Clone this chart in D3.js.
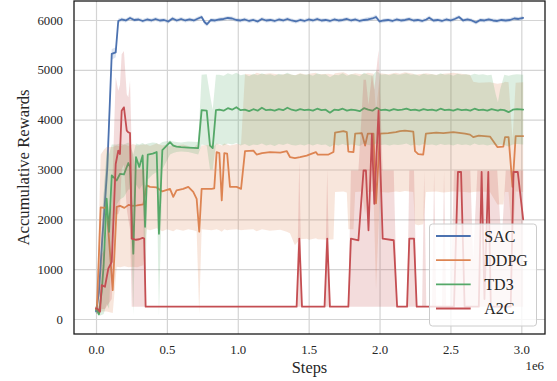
<!DOCTYPE html>
<html><head><meta charset="utf-8">
<script src="https://cdn.jsdelivr.net/npm/d3@7/dist/d3.min.js"></script>
<style>body{margin:0;background:#fff}svg{display:block}</style>
</head><body><div id="chart"></div>
<script>
// ---- data: [steps (1e6), mean, lower, upper] ----
const seriesNames = ["SAC", "DDPG", "TD3", "A2C"];
const seriesColors = ["#4c72b0", "#dd8452", "#55a868", "#c44e52"];
const xTickValues = [0, 0.5, 1.0, 1.5, 2.0, 2.5, 3.0];
const yTickValues = [0, 1000, 2000, 3000, 4000, 5000, 6000];

const sac = [
[0.000,150,110,190],[0.020,520,300,800],[0.044,1600,1200,2100],[0.062,2300,1900,2800],
[0.080,3050,2700,3400],[0.111,5320,5200,5420],[0.139,5350,5250,5450],[0.157,5980,5930,6030],
[0.180,6010,5970,6050],[0.210,5990,5950,6030],[0.240,6040,6000,6080],[0.270,6000,5960,6040],
[0.300,6010,5980,6050],[0.330,5980,5940,6020],[0.360,6010,5970,6050],[0.390,5990,5950,6030],
[0.420,6020,5980,6060],[0.450,5990,5950,6030],[0.480,6000,5960,6040],[0.510,5970,5930,6010],
[0.540,6030,5990,6070],[0.570,5990,5950,6030],[0.600,6020,5980,6060],[0.630,5990,5950,6030],
[0.660,6010,5970,6050],[0.690,5990,5950,6030],[0.720,6030,5990,6070],[0.745,6060,6020,6100],
[0.765,5960,5910,6010],[0.783,5915,5870,5960],[0.810,6000,5960,6040],[0.840,5990,5950,6030],
[0.870,6010,5970,6050],[0.900,6020,5980,6060],[0.930,6040,6000,6080],[0.960,6030,5990,6070],
[0.990,6000,5960,6040],[1.020,5990,5950,6030],[1.050,6010,5970,6050],[1.080,5980,5940,6020],
[1.110,6000,5960,6040],[1.140,5970,5930,6010],[1.170,6020,5980,6060],[1.200,5990,5950,6030],
[1.230,6000,5960,6040],[1.260,5980,5940,6020],[1.290,6010,5970,6050],[1.320,5990,5950,6030],
[1.350,6020,5980,6060],[1.380,5990,5950,6030],[1.410,5970,5930,6010],[1.440,6000,5960,6040],
[1.470,5980,5940,6020],[1.500,6010,5970,6050],[1.530,5990,5950,6030],[1.560,6020,5980,6060],
[1.590,5990,5950,6030],[1.620,6000,5960,6040],[1.650,5980,5940,6020],[1.680,6010,5970,6050],
[1.710,5990,5950,6030],[1.740,6000,5960,6040],[1.770,6020,5980,6060],[1.800,5990,5950,6030],
[1.830,6010,5970,6050],[1.860,5980,5940,6020],[1.890,6000,5960,6040],[1.920,6010,5970,6060],
[1.950,6030,5990,6070],[1.975,6060,6010,6110],[2.000,5970,5930,6010],[2.030,5990,5950,6030],
[2.060,6000,5960,6040],[2.090,5980,5940,6020],[2.120,6010,5970,6050],[2.150,5990,5950,6030],
[2.180,6000,5960,6040],[2.210,6020,5980,6060],[2.240,5990,5950,6030],[2.270,6000,5960,6040],
[2.300,5980,5940,6020],[2.330,6010,5970,6050],[2.350,6045,6000,6090],[2.380,5990,5950,6030],
[2.410,6000,5960,6040],[2.440,5980,5940,6020],[2.470,6010,5970,6050],[2.500,5990,5950,6030],
[2.530,6020,5980,6060],[2.560,6060,6020,6100],[2.590,5990,5950,6030],[2.620,6010,5970,6050],
[2.650,5990,5950,6030],[2.680,5950,5910,5990],[2.710,6000,5960,6040],[2.740,5990,5950,6030],
[2.770,6010,5970,6050],[2.800,5990,5950,6030],[2.830,5980,5940,6020],[2.860,6000,5960,6040],
[2.890,5990,5950,6030],[2.920,6000,5960,6040],[2.950,6030,5990,6070],[2.980,6020,5980,6060],
[3.013,6040,6000,6080]
];

const ddpg = [
[0.000,200,100,300],[0.007,260,100,500],[0.033,2240,150,3300],[0.057,2230,150,3400],
[0.075,2250,150,3450],[0.118,580,120,3450],[0.146,2250,1050,3480],[0.170,2270,1040,3460],
[0.200,2230,1060,3500],[0.230,2290,1040,3470],[0.260,2270,1050,3510],[0.290,2280,1040,3480],
[0.334,2300,1080,3500],[0.357,2680,1800,3500],[0.381,2650,1780,3470],[0.428,2640,1820,3520],
[0.468,2560,1760,3480],[0.500,2590,1800,3500],[0.522,2610,1780,3460],[0.545,2450,1760,3510],
[0.568,2580,1800,3480],[0.615,2610,1770,3500],[0.651,2650,1800,3470],[0.686,2550,1780,3420],
[0.710,2410,1760,3500],[0.728,1750,100,3400],[0.745,2610,1800,3480],[0.815,2610,1780,3500],
[0.834,2620,1790,3470],[0.851,3350,1800,3520],[0.870,3330,1780,3500],[0.887,2380,1750,3480],
[0.905,3330,1800,3520],[0.925,3320,1780,3500],[0.945,2650,1790,3480],[0.992,2650,1800,3510],
[1.023,2610,1780,3500],[1.051,3370,1790,4920],[1.110,3380,1800,4900],[1.133,3300,1760,4940],
[1.171,3330,1800,4910],[1.227,3350,1770,4930],[1.300,3340,1790,4900],[1.345,3370,1750,4920],
[1.368,3250,1720,4910],[1.403,3230,1480,4890],[1.439,3250,1600,4930],[1.486,3280,1610,4900],
[1.504,3300,1590,4920],[1.551,3350,1620,4940],[1.563,3300,1600,4910],[1.640,3300,1590,4920],
[1.675,3350,1600,4900],[1.686,3740,2550,4930],[1.745,3770,2560,4950],[1.769,3750,2540,4920],
[1.780,3360,1800,4900],[1.816,3350,1800,4920],[1.828,3720,2550,4930],[1.875,3730,2560,4910],
[1.898,3480,2100,4920],[1.917,3720,2550,4940],[1.957,3720,2560,4920],[1.975,2320,600,4150],
[2.003,3720,2550,4930],[2.062,3730,2540,4910],[2.115,3750,2560,4940],[2.144,3770,2550,4920],
[2.179,3780,2570,4950],[2.238,3760,2550,4920],[2.250,3370,1900,4900],[2.273,3310,1880,4910],
[2.308,3300,1900,4920],[2.327,3720,2550,4930],[2.400,3740,2560,4900],[2.450,3730,2540,4920],
[2.520,3750,2560,4940],[2.603,3720,2550,4910],[2.638,3700,2540,4900],[2.661,3650,2550,4760],
[2.700,3680,2560,4740],[2.779,3660,2550,4750],[2.831,3450,2300,4720],[2.873,3460,2300,4740],
[2.885,3650,2550,4760],[2.910,3650,2550,4750],[2.938,2650,1500,3600],[2.960,3670,2560,4740],
[3.013,3670,2550,4750]
];

const td3 = [
[0.000,180,100,300],[0.007,180,100,300],[0.021,95,60,200],[0.040,547,80,1500],
[0.054,1080,100,2500],[0.075,2413,300,3400],[0.092,1747,200,3300],[0.111,2880,1500,3500],
[0.146,2780,2300,3500],[0.169,2910,2400,3520],[0.197,2900,2450,3500],[0.228,3130,2600,3540],
[0.240,3050,2600,3500],[0.263,1310,80,3300],[0.282,3250,2700,3520],[0.305,3050,2600,3500],
[0.329,3280,2700,3530],[0.346,1850,400,3500],[0.365,3300,2800,3520],[0.400,3320,2900,3540],
[0.428,3350,2950,3530],[0.444,1710,60,3500],[0.468,3390,3000,3550],[0.522,3550,3300,3580],
[0.545,3480,3330,3560],[0.568,3460,3350,3550],[0.600,3450,3360,3540],[0.650,3440,3350,3560],
[0.721,3430,3300,3550],[0.745,4190,3500,4900],[0.781,4180,3480,4910],[0.804,3480,3000,4500],
[0.823,3430,3000,4200],[0.846,4190,3500,4900],[0.870,4200,3510,4900],[0.900,4180,3480,4880],
[0.930,4230,3520,4930],[0.960,4200,3500,4900],[0.990,4250,3530,4940],[1.020,4190,3480,4890],
[1.050,4200,3510,4910],[1.080,4170,3470,4870],[1.110,4210,3500,4920],[1.140,4180,3490,4890],
[1.170,4240,3520,4930],[1.200,4190,3480,4900],[1.230,4200,3500,4910],[1.260,4180,3470,4880],
[1.290,4210,3510,4920],[1.320,4190,3490,4900],[1.350,4240,3520,4940],[1.380,4200,3490,4900],
[1.410,4180,3480,4890],[1.440,4210,3500,4920],[1.470,4190,3480,4900],[1.500,4200,3510,4910],
[1.530,4180,3480,4880],[1.560,4220,3510,4930],[1.590,4190,3490,4900],[1.620,4200,3500,4910],
[1.650,4140,3450,4850],[1.680,4200,3500,4900],[1.710,4190,3480,4890],[1.740,4220,3510,4930],
[1.770,4180,3480,4880],[1.800,4200,3500,4910],[1.830,4190,3490,4900],[1.860,4170,3470,4870],
[1.890,4230,3520,4940],[1.920,4200,3490,4900],[1.950,4180,3480,4880],[1.980,4240,3530,4980],
[2.010,4190,3490,4900],[2.040,4200,3500,4910],[2.070,4180,3480,4890],[2.100,4210,3500,4920],
[2.130,4190,3490,4900],[2.160,4200,3500,4910],[2.190,4220,3520,4930],[2.220,4190,3480,4900],
[2.250,4200,3500,4910],[2.280,4180,3480,4880],[2.310,4210,3510,4920],[2.340,4190,3490,4900],
[2.370,4200,3500,4910],[2.400,4180,3480,4890],[2.430,4220,3510,4930],[2.460,4190,3490,4900],
[2.490,4200,3500,4910],[2.520,4180,3480,4880],[2.550,4210,3510,4920],[2.580,4190,3490,4900],
[2.610,4200,3500,4910],[2.640,4180,3480,4890],[2.670,4220,3520,4920],[2.700,4190,3490,4900],
[2.730,4200,3500,4910],[2.760,4180,3480,4890],[2.790,4210,3500,4900],[2.820,4190,3490,4500],
[2.835,4180,3480,4350],[2.850,4200,3500,4600],[2.880,4190,3490,4900],[2.910,4150,3460,4880],
[2.940,4200,3500,4900],[2.970,4210,3510,4910],[3.013,4200,3500,4900]
];

const a2c = [
[0.000,213,150,280],[0.007,213,150,280],[0.028,147,100,250],[0.040,680,200,1300],
[0.063,647,200,1400],[0.087,1013,300,2000],[0.111,1147,400,2300],[0.139,3110,2100,4850],
[0.157,3380,2100,4580],[0.169,3310,2200,4700],[0.181,4180,3000,5310],[0.197,4247,3100,5380],
[0.217,3780,2200,4510],[0.228,3747,2000,4450],[0.240,3730,1800,4780],[0.252,1613,247,3400],
[0.282,1590,247,3000],[0.305,1600,247,3000],[0.329,1627,247,3000],[0.340,1613,247,3000],
[0.350,247,247,247],[1.415,247,247,247],[1.434,1613,247,3180],[1.453,247,247,247],
[1.612,247,247,247],[1.631,1613,247,3000],[1.650,247,247,247],[1.780,247,247,247],
[1.798,1613,247,2980],[1.851,1580,247,2980],[1.887,2980,247,4800],[1.904,2980,247,4800],
[1.922,1780,247,4300],[1.946,3713,247,4900],[1.963,2313,247,4600],[1.993,4180,247,5400],
[2.022,1613,247,2980],[2.100,1580,247,2980],[2.124,247,247,247],[2.194,247,247,247],
[2.210,1613,247,2980],[2.243,1613,247,2980],[2.262,247,247,247],[2.300,247,247,247],
[2.315,247,247,2980],[2.330,247,247,247],[2.370,247,247,247],[2.385,247,247,2980],
[2.400,247,247,247],[2.440,247,247,247],[2.455,247,247,2980],[2.470,247,247,247],
[2.500,247,247,247],[2.525,247,247,2980],[2.553,2950,247,2980],[2.575,2950,247,2980],
[2.600,247,247,2980],[2.640,247,247,2980],[2.660,247,247,1200],[2.690,247,247,2980],
[2.700,247,247,2980],[2.720,2950,247,2980],[2.740,400,247,2980],[2.767,2950,247,2980],
[2.785,247,247,2980],[2.830,247,247,2980],[2.860,247,247,1500],[2.890,247,247,2980],
[2.925,247,247,2980],[2.945,2950,247,2980],[2.975,2950,247,2980],[3.013,2000,247,2980]
];

const allSeries = [sac, ddpg, td3, a2c];

// ---- layout ----
const W = 557, H = 381;
const plot = {left: 74, right: 545, top: 1, bottom: 334};
const FONT = "'Liberation Serif','Times New Roman',serif";
const INK = "#262626";

const svg = d3.select("#chart").append("svg").attr("width", W).attr("height", H);

const x = d3.scaleLinear().domain([-0.1552, 3.167]).range([plot.left, plot.right]);
const y = d3.scaleLinear().domain([-301, 6381]).range([plot.bottom, plot.top]);

// grid
const gx = svg.append("g").attr("transform", `translate(0,${plot.bottom})`)
  .call(d3.axisBottom(x).tickValues(xTickValues).tickSize(-(plot.bottom - plot.top)).tickFormat(""));
const gy = svg.append("g").attr("transform", `translate(${plot.left},0)`)
  .call(d3.axisLeft(y).tickValues(yTickValues).tickSize(-(plot.right - plot.left)).tickFormat(""));
[gx, gy].forEach(g => {
  g.select(".domain").remove();
  g.selectAll("line").attr("stroke", "#d4d4d4").attr("stroke-width", 1.2);
});

// clip
svg.append("clipPath").attr("id", "clip").append("rect")
  .attr("x", plot.left).attr("y", plot.top)
  .attr("width", plot.right - plot.left).attr("height", plot.bottom - plot.top);
const marks = svg.append("g").attr("clip-path", "url(#clip)");

const area = d3.area().x(d => x(d[0])).y0(d => y(d[2])).y1(d => y(d[3]));
const line = d3.line().x(d => x(d[0])).y(d => y(d[1]));

allSeries.forEach((data, i) => {
  marks.append("path").datum(data).attr("d", area)
    .attr("fill", seriesColors[i]).attr("fill-opacity", 0.2).attr("stroke", "none");
  marks.append("path").datum(data).attr("d", line)
    .attr("fill", "none").attr("stroke", seriesColors[i]).attr("stroke-width", 1.8)
    .attr("stroke-linejoin", "round").attr("stroke-linecap", "round");
});

// frame
svg.append("rect").attr("x", plot.left).attr("y", plot.top)
  .attr("width", plot.right - plot.left).attr("height", plot.bottom - plot.top)
  .attr("fill", "none").attr("stroke", "#1a1a1a").attr("stroke-width", 1.3);

// tick labels via axes
const ax = svg.append("g").attr("transform", `translate(0,${plot.bottom})`)
  .call(d3.axisBottom(x).tickValues(xTickValues).tickSize(0).tickPadding(11).tickFormat(d3.format(".1f")));
const ay = svg.append("g").attr("transform", `translate(${plot.left},0)`)
  .call(d3.axisLeft(y).tickValues(yTickValues).tickSize(0).tickPadding(11).tickFormat(d3.format("d")));
[ax, ay].forEach(g => {
  g.select(".domain").remove();
  g.selectAll("text").attr("font-family", FONT).attr("font-size", 12.8).attr("fill", INK);
});

// axis titles
svg.append("text").attr("x", (plot.left + plot.right) / 2).attr("y", 372.5)
  .attr("text-anchor", "middle").attr("font-family", FONT).attr("font-size", 16.4).attr("fill", INK)
  .text("Steps");
svg.append("text").attr("transform", `translate(28.5,${(plot.top + plot.bottom) / 2}) rotate(-90)`)
  .attr("text-anchor", "middle").attr("font-family", FONT).attr("font-size", 16.7).attr("fill", INK)
  .text("Accumulative Rewards");
svg.append("text").attr("x", 544).attr("y", 370).attr("text-anchor", "end")
  .attr("font-family", FONT).attr("font-size", 12.8).attr("fill", INK).text("1e6");

// legend
const lg = svg.append("g");
lg.append("rect").attr("x", 429.5).attr("y", 224).attr("width", 107).attr("height", 102)
  .attr("rx", 3).attr("fill", "#fff").attr("fill-opacity", 0.8)
  .attr("stroke", "#cccccc").attr("stroke-width", 1);
const rowY = d3.scalePoint().domain(seriesNames).range([236, 308.5]);
seriesNames.forEach((n, i) => {
  lg.append("line").attr("x1", 436).attr("x2", 470.7).attr("y1", rowY(n)).attr("y2", rowY(n))
    .attr("stroke", seriesColors[i]).attr("stroke-width", 1.8);
  lg.append("text").attr("x", 484.3).attr("y", rowY(n) + 5.8).attr("font-family", FONT)
    .attr("font-size", 16).attr("fill", INK).text(n);
});
</script></body></html>
